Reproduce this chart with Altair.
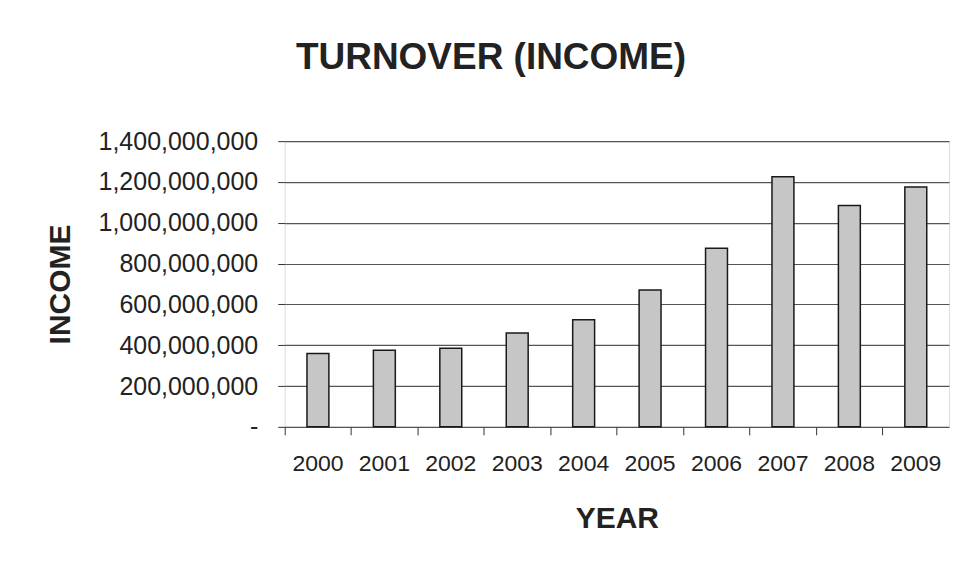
import altair as alt
import pandas as pd

years = ["2000", "2001", "2002", "2003", "2004", "2005", "2006", "2007", "2008", "2009"]
income = [360e6, 375e6, 385e6, 460e6, 525e6, 670e6, 875e6, 1225e6, 1085e6, 1175e6]
y_ticks = [0, 200e6, 400e6, 600e6, 800e6, 1000e6, 1200e6, 1400e6]

df = pd.DataFrame({"year": years, "income": income})

FONT = "Liberation Sans"
TXT = "#222222"

chart = alt.Chart(df).mark_bar(
    fill="#c6c6c6", stroke="#1a1a1a", strokeWidth=1.5
).encode(
    x=alt.X("year:N", sort=years,
            scale=alt.Scale(paddingInner=0.67, paddingOuter=0.335),
            axis=alt.Axis(title="YEAR", labelAngle=0, labelFont=FONT, labelFontSize=23,
                          labelColor=TXT, labelPadding=18, tickSize=8, tickColor="#333",
                          bandPosition=-1.015, domain=False,
                          titleFont=FONT, titleFontSize=30, titleFontWeight="bold",
                          titleColor=TXT, titleY=92, titleBaseline="middle")),
    y=alt.Y("income:Q", scale=alt.Scale(domain=[0, 1400e6], nice=False),
            axis=alt.Axis(title="INCOME", values=y_ticks,
                          labelExpr="datum.value == 0 ? '-' : format(datum.value, ',')",
                          labelFont=FONT, labelFontSize=25, labelColor=TXT, labelPadding=20,
                          tickSize=7, tickColor="#333", domain=False,
                          grid=True, gridColor="#555555", gridWidth=1.2,
                          titleFont=FONT, titleFontSize=30, titleFontWeight="bold",
                          titleColor=TXT, titleX=-224, titleY=143, titleAngle=-90,
                          titleBaseline="middle", titleAlign="center")),
).properties(
    width=665, height=286,
    title=alt.TitleParams("TURNOVER (INCOME)", font=FONT, fontSize=37, fontWeight="bold",
                          color=TXT, anchor="middle", dx=-126, offset=52),
    autosize=alt.AutoSizeParams(type="none"),
    padding={"left": 277, "top": 133, "right": 10, "bottom": 130},
).configure_view(
    fill="#ebebeb", stroke="#444444", strokeWidth=1.5
).configure(background="white")

chart.save("out.html", embed_options={"renderer": "svg", "actions": False})
